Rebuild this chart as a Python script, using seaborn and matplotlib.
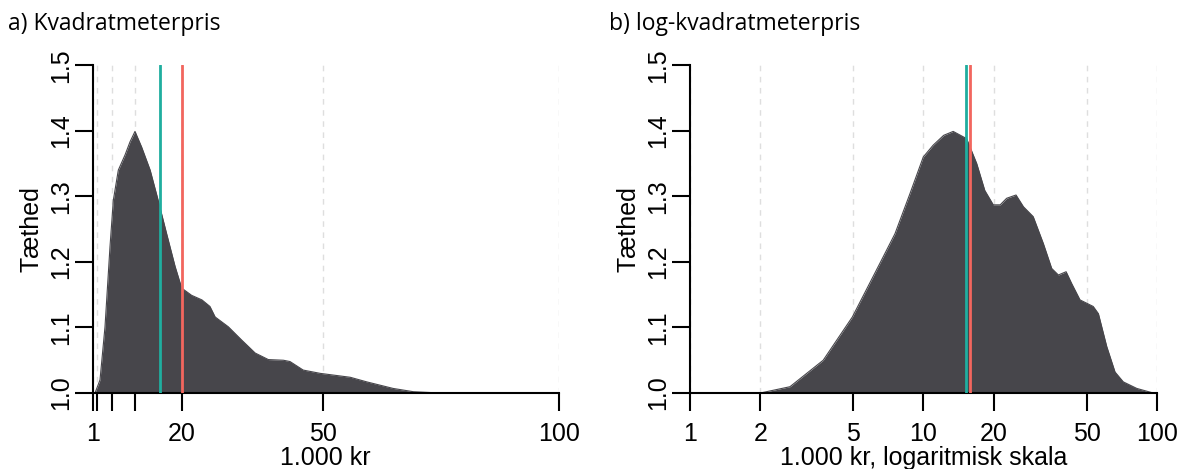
import matplotlib
matplotlib.use("Agg")
import matplotlib.pyplot as plt
import seaborn as sns
import pandas as pd

# density curves (baseline at 1.0)
lin_x = [1.0, 1.49, 2.55, 3.61, 4.67, 5.38, 6.44, 7.86, 8.92, 9.98, 11.4, 13.2, 14.9, 16.7,
         18.5, 19.9, 22.0, 24.2, 25.9, 27.0, 29.8, 32.6, 35.5, 38.3, 41.5, 42.9, 45.7, 49.3,
         55.7, 59.2, 64.8, 69.1, 74.8, 100.0]
lin_y = [1.0, 1.0, 1.020, 1.101, 1.223, 1.294, 1.340, 1.363, 1.383, 1.399, 1.375, 1.340,
         1.294, 1.243, 1.193, 1.160, 1.149, 1.142, 1.132, 1.116, 1.101, 1.081, 1.061, 1.051,
         1.050, 1.048, 1.035, 1.030, 1.024, 1.017, 1.007, 1.002, 1.0, 1.0]

log_x = [1.0, 2.0, 2.68, 3.72, 4.96, 6.51, 7.55, 8.75, 9.98, 11.0, 12.2, 13.4, 15.3, 16.9,
         18.3, 19.9, 21.3, 22.7, 24.9, 26.8, 29.5, 32.6, 35.4, 37.8, 40.8, 43.1, 46.8, 53.3,
         56.1, 60.9, 66.1, 71.7, 81.9, 96.4, 100.0]
log_y = [1.0, 1.0, 1.0096, 1.050, 1.116, 1.198, 1.243, 1.304, 1.360, 1.378, 1.393, 1.399,
         1.388, 1.350, 1.309, 1.287, 1.287, 1.297, 1.302, 1.284, 1.269, 1.228, 1.190, 1.180,
         1.185, 1.167, 1.142, 1.132, 1.121, 1.071, 1.032, 1.017, 1.007, 1.0, 1.0]

# median (teal) and mean (red)
lin_median, lin_mean = 15.2, 20.0
log_median, log_mean = 15.25, 15.75

x_ticks = [1, 2, 5, 10, 20, 50, 100]
lin_tick_labels = ["1", "", "", "", "20", "50", "100"]
log_tick_labels = ["1", "2", "5", "10", "20", "50", "100"]
y_ticks = [1.0, 1.1, 1.2, 1.3, 1.4, 1.5]

titles = ["a) Kvadratmeterpris", "b) log-kvadratmeterpris"]
xlabels = ["1.000 kr", "1.000 kr, logaritmisk skala"]

fill_col = "#47464b"
teal = "#1fae9f"
red = "#f2665e"

sns.set_style("white")
plt.rcParams["font.family"] = ["Liberation Sans", "DejaVu Sans"]
plt.rcParams["text.color"] = "black"
plt.rcParams["axes.labelcolor"] = "black"

fig = plt.figure(figsize=(11.78, 4.69), dpi=100)
ax1 = fig.add_axes([0.0787, 0.162, 0.3957, 0.699])
ax2 = fig.add_axes([0.5857, 0.162, 0.3965, 0.699])

panels = [
    (ax1, pd.DataFrame({"x": lin_x, "y": lin_y}), lin_median, lin_mean, lin_tick_labels, False),
    (ax2, pd.DataFrame({"x": log_x, "y": log_y}), log_median, log_mean, log_tick_labels, True),
]

for i, (ax, df, med, mean, labs, logscale) in enumerate(panels):
    if logscale:
        ax.set_xscale("log")
    ax.set_axisbelow(True)
    ax.grid(axis="x", linestyle=(0, (4, 4)), color="#dedede", lw=1)
    ax.fill_between(df["x"], 1.0, df["y"], color=fill_col, lw=0, zorder=2)
    sns.lineplot(data=df, x="x", y="y", ax=ax, color=fill_col, lw=0.8,
                 estimator=None, sort=False, zorder=2)
    ax.axvline(med, color=teal, lw=2, zorder=3)
    ax.axvline(mean, color=red, lw=2, zorder=3)

    ax.set_xlim(1, 100)
    ax.set_ylim(1.0, 1.5)
    ax.set_xticks(x_ticks)
    ax.set_xticklabels(labs)
    ax.minorticks_off()
    ax.set_yticks(y_ticks)
    ax.set_yticklabels([f"{v:.1f}" for v in y_ticks], rotation=90, va="center")
    ax.tick_params(axis="both", direction="out", length=13, width=1.5, labelsize=18,
                   color="black", labelcolor="black", bottom=True, left=True)
    ax.tick_params(axis="x", pad=8)
    ax.tick_params(axis="y", pad=1)

    for s in ["top", "right"]:
        ax.spines[s].set_visible(False)
    for s in ["left", "bottom"]:
        ax.spines[s].set_color("black")
        ax.spines[s].set_linewidth(1.5)

    ax.set_xlabel(xlabels[i], fontsize=18, labelpad=0)
    ax.set_ylabel("Tæthed", fontsize=18, labelpad=4)

fig.text(8 / 1178, 1 - 24 / 469, titles[0], fontsize=16.5, family="Open Sans", va="center")
fig.text(609 / 1178, 1 - 24 / 469, titles[1], fontsize=16.5, family="Open Sans", va="center")

fig.savefig("out.png", dpi=100)
